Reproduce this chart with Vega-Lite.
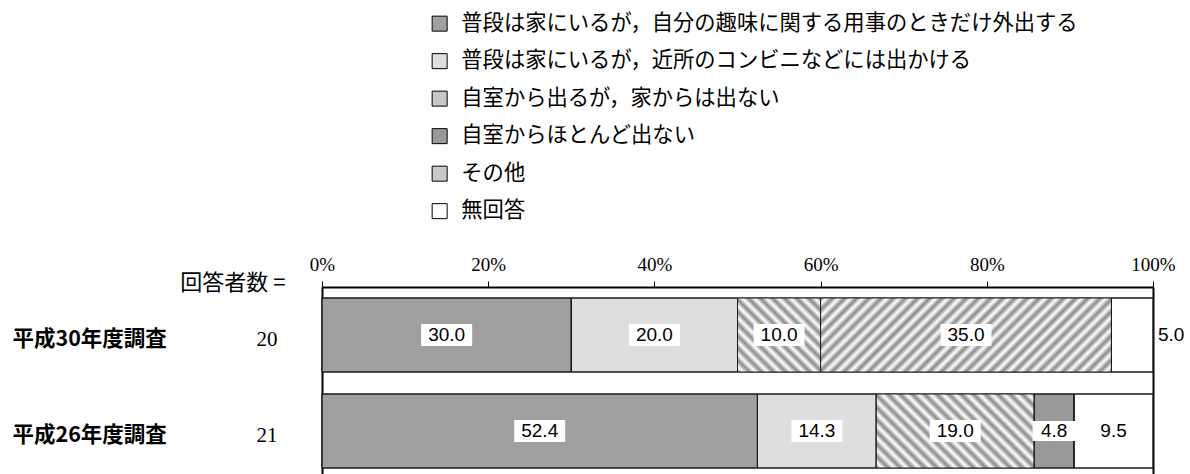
{
  "$schema": "https://vega.github.io/schema/vega-lite/v6.json",
  "width": 831,
  "height": 187,
  "autosize": {"type": "none"},
  "padding": {"left": 322, "top": 287, "right": 37, "bottom": 0},
  "background": "white",
  "config": {"view": {"stroke": null}},
  "data": {
    "values": [
      {"survey": "平成30年度調査", "n": 20, "no": 1, "category": "普段は家にいるが，自分の趣味に関する用事のときだけ外出する", "value": 30.0},
      {"survey": "平成30年度調査", "n": 20, "no": 2, "category": "普段は家にいるが，近所のコンビニなどには出かける", "value": 20.0},
      {"survey": "平成30年度調査", "n": 20, "no": 3, "category": "自室から出るが，家からは出ない", "value": 10.0},
      {"survey": "平成30年度調査", "n": 20, "no": 5, "category": "その他", "value": 35.0},
      {"survey": "平成30年度調査", "n": 20, "no": 6, "category": "無回答", "value": 5.0},
      {"survey": "平成26年度調査", "n": 21, "no": 1, "category": "普段は家にいるが，自分の趣味に関する用事のときだけ外出する", "value": 52.4},
      {"survey": "平成26年度調査", "n": 21, "no": 2, "category": "普段は家にいるが，近所のコンビニなどには出かける", "value": 14.3},
      {"survey": "平成26年度調査", "n": 21, "no": 3, "category": "自室から出るが，家からは出ない", "value": 19.0},
      {"survey": "平成26年度調査", "n": 21, "no": 4, "category": "自室からほとんど出ない", "value": 4.8},
      {"survey": "平成26年度調査", "n": 21, "no": 6, "category": "無回答", "value": 9.5}
    ]
  },
  "layer": [
    {
      "encoding": {
        "y": {
          "field": "survey",
          "type": "nominal",
          "sort": ["平成30年度調査", "平成26年度調査"],
          "scale": {"type": "band", "domain": ["平成30年度調査", "平成26年度調査"], "paddingInner": 0.229, "paddingOuter": 0.0885, "align": 0.647},
          "axis": {
            "orient": "left",
            "title": null,
            "domain": false,
            "ticks": false,
            "tickSize": 0,
            "labelAlign": "left",
            "labelPadding": 310,
            "labelOffset": 5,
            "labelFont": "Noto Sans CJK JP",
            "labelFontWeight": "bold",
            "labelFontSize": 21.5,
            "labelColor": "black",
            "labelLimit": 0
          }
        }
      },
      "layer": [
        {
          "mark": {"type": "bar", "stroke": "#1a1a1a", "strokeWidth": 1},
          "encoding": {
            "x": {
              "field": "value",
              "type": "quantitative",
              "stack": "zero",
              "scale": {"domain": [0, 100], "nice": false},
              "axis": {
                "orient": "top",
                "title": null,
                "values": [0, 20, 40, 60, 80, 100],
                "labelExpr": "datum.value + '%'",
                "labelFont": "Liberation Serif",
                "labelFontSize": 19,
                "labelColor": "black",
                "labelPadding": 7,
                "labelFlush": false,
                "tickSize": 6,
                "tickColor": "black",
                "domainColor": "black",
                "domainWidth": 2,
                "grid": true,
                "gridColor": "black",
                "gridWidth": 2,
                "gridOpacity": {"condition": {"test": "datum.value === 0 || datum.value === 100", "value": 1}, "value": 0}
              }
            },
            "order": {"field": "no", "type": "quantitative"},
            "color": {
              "field": "category",
              "type": "nominal",
              "scale": {
                "domain": [
                  "普段は家にいるが，自分の趣味に関する用事のときだけ外出する",
                  "普段は家にいるが，近所のコンビニなどには出かける",
                  "自室から出るが，家からは出ない",
                  "自室からほとんど出ない",
                  "その他",
                  "無回答"
                ],
                "range": ["#a0a0a0", "#dedede", "#c6c6c6", "#999999", "#c9c9c9", "#ffffff"]
              },
              "legend": {
                "orient": "none",
                "legendX": 107,
                "legendY": -274,
                "direction": "vertical",
                "title": null,
                "symbolType": "square",
                "symbolSize": 225,
                "symbolStrokeColor": "black",
                "symbolStrokeWidth": 1,
                "symbolOpacity": 1,
                "labelFont": "Noto Sans CJK JP",
                "labelFontSize": 21.3,
                "labelColor": "black",
                "labelLimit": 0,
                "labelOffset": 11,
                "rowPadding": 15.5,
                "padding": 0,
                "offset": 0
              }
            }
          }
        },
        {
          "mark": {"type": "bar", "stroke": "#1a1a1a", "strokeWidth": 1},
          "encoding": {
            "x": {"field": "value", "type": "quantitative", "stack": "zero"},
            "order": {"field": "no", "type": "quantitative"},
            "detail": {"field": "category"},
            "fill": {
              "condition": [
                {
                  "test": "datum.no === 3 && datum.survey === '平成30年度調査'",
                  "value": {
                    "gradient": "linear", "x1": 0, "y1": 1, "x2": 1.0544, "y2": 0.0611,
                    "stops": [
                      {"offset": 0, "color": "#8a8a8a"}, {"offset": 0.0385, "color": "#ffffff"},
                      {"offset": 0.0769, "color": "#8a8a8a"}, {"offset": 0.1154, "color": "#ffffff"},
                      {"offset": 0.1538, "color": "#8a8a8a"}, {"offset": 0.1923, "color": "#ffffff"},
                      {"offset": 0.2308, "color": "#8a8a8a"}, {"offset": 0.2692, "color": "#ffffff"},
                      {"offset": 0.3077, "color": "#8a8a8a"}, {"offset": 0.3462, "color": "#ffffff"},
                      {"offset": 0.3846, "color": "#8a8a8a"}, {"offset": 0.4231, "color": "#ffffff"},
                      {"offset": 0.4615, "color": "#8a8a8a"}, {"offset": 0.5, "color": "#ffffff"},
                      {"offset": 0.5385, "color": "#8a8a8a"}, {"offset": 0.5769, "color": "#ffffff"},
                      {"offset": 0.6154, "color": "#8a8a8a"}, {"offset": 0.6538, "color": "#ffffff"},
                      {"offset": 0.6923, "color": "#8a8a8a"}, {"offset": 0.7308, "color": "#ffffff"},
                      {"offset": 0.7692, "color": "#8a8a8a"}, {"offset": 0.8077, "color": "#ffffff"},
                      {"offset": 0.8462, "color": "#8a8a8a"}, {"offset": 0.8846, "color": "#ffffff"},
                      {"offset": 0.9231, "color": "#8a8a8a"}, {"offset": 0.9615, "color": "#ffffff"},
                      {"offset": 1, "color": "#8a8a8a"}
                    ]
                  }
                },
                {
                  "test": "datum.no === 3 && datum.survey === '平成26年度調査'",
                  "value": {
                    "gradient": "linear", "x1": 0, "y1": 1, "x2": 1.2042, "y2": 0.4357,
                    "stops": [
                      {"offset": 0, "color": "#8a8a8a"}, {"offset": 0.0263, "color": "#ffffff"},
                      {"offset": 0.0526, "color": "#8a8a8a"}, {"offset": 0.0789, "color": "#ffffff"},
                      {"offset": 0.1053, "color": "#8a8a8a"}, {"offset": 0.1316, "color": "#ffffff"},
                      {"offset": 0.1579, "color": "#8a8a8a"}, {"offset": 0.1842, "color": "#ffffff"},
                      {"offset": 0.2105, "color": "#8a8a8a"}, {"offset": 0.2368, "color": "#ffffff"},
                      {"offset": 0.2632, "color": "#8a8a8a"}, {"offset": 0.2895, "color": "#ffffff"},
                      {"offset": 0.3158, "color": "#8a8a8a"}, {"offset": 0.3421, "color": "#ffffff"},
                      {"offset": 0.3684, "color": "#8a8a8a"}, {"offset": 0.3947, "color": "#ffffff"},
                      {"offset": 0.4211, "color": "#8a8a8a"}, {"offset": 0.4474, "color": "#ffffff"},
                      {"offset": 0.4737, "color": "#8a8a8a"}, {"offset": 0.5, "color": "#ffffff"},
                      {"offset": 0.5263, "color": "#8a8a8a"}, {"offset": 0.5526, "color": "#ffffff"},
                      {"offset": 0.5789, "color": "#8a8a8a"}, {"offset": 0.6053, "color": "#ffffff"},
                      {"offset": 0.6316, "color": "#8a8a8a"}, {"offset": 0.6579, "color": "#ffffff"},
                      {"offset": 0.6842, "color": "#8a8a8a"}, {"offset": 0.7105, "color": "#ffffff"},
                      {"offset": 0.7368, "color": "#8a8a8a"}, {"offset": 0.7632, "color": "#ffffff"},
                      {"offset": 0.7895, "color": "#8a8a8a"}, {"offset": 0.8158, "color": "#ffffff"},
                      {"offset": 0.8421, "color": "#8a8a8a"}, {"offset": 0.8684, "color": "#ffffff"},
                      {"offset": 0.8947, "color": "#8a8a8a"}, {"offset": 0.9211, "color": "#ffffff"},
                      {"offset": 0.9474, "color": "#8a8a8a"}, {"offset": 0.9737, "color": "#ffffff"},
                      {"offset": 1, "color": "#8a8a8a"}
                    ]
                  }
                },
                {
                  "test": "datum.no === 5 && datum.survey === '平成30年度調査'",
                  "value": {
                    "gradient": "linear", "x1": 0, "y1": 0, "x2": 1.1781, "y2": 0.2997,
                    "stops": [
                      {"offset": 0, "color": "#8a8a8a"}, {"offset": 0.0167, "color": "#ffffff"},
                      {"offset": 0.0333, "color": "#8a8a8a"}, {"offset": 0.05, "color": "#ffffff"},
                      {"offset": 0.0667, "color": "#8a8a8a"}, {"offset": 0.0833, "color": "#ffffff"},
                      {"offset": 0.1, "color": "#8a8a8a"}, {"offset": 0.1167, "color": "#ffffff"},
                      {"offset": 0.1333, "color": "#8a8a8a"}, {"offset": 0.15, "color": "#ffffff"},
                      {"offset": 0.1667, "color": "#8a8a8a"}, {"offset": 0.1833, "color": "#ffffff"},
                      {"offset": 0.2, "color": "#8a8a8a"}, {"offset": 0.2167, "color": "#ffffff"},
                      {"offset": 0.2333, "color": "#8a8a8a"}, {"offset": 0.25, "color": "#ffffff"},
                      {"offset": 0.2667, "color": "#8a8a8a"}, {"offset": 0.2833, "color": "#ffffff"},
                      {"offset": 0.3, "color": "#8a8a8a"}, {"offset": 0.3167, "color": "#ffffff"},
                      {"offset": 0.3333, "color": "#8a8a8a"}, {"offset": 0.35, "color": "#ffffff"},
                      {"offset": 0.3667, "color": "#8a8a8a"}, {"offset": 0.3833, "color": "#ffffff"},
                      {"offset": 0.4, "color": "#8a8a8a"}, {"offset": 0.4167, "color": "#ffffff"},
                      {"offset": 0.4333, "color": "#8a8a8a"}, {"offset": 0.45, "color": "#ffffff"},
                      {"offset": 0.4667, "color": "#8a8a8a"}, {"offset": 0.4833, "color": "#ffffff"},
                      {"offset": 0.5, "color": "#8a8a8a"}, {"offset": 0.5167, "color": "#ffffff"},
                      {"offset": 0.5333, "color": "#8a8a8a"}, {"offset": 0.55, "color": "#ffffff"},
                      {"offset": 0.5667, "color": "#8a8a8a"}, {"offset": 0.5833, "color": "#ffffff"},
                      {"offset": 0.6, "color": "#8a8a8a"}, {"offset": 0.6167, "color": "#ffffff"},
                      {"offset": 0.6333, "color": "#8a8a8a"}, {"offset": 0.65, "color": "#ffffff"},
                      {"offset": 0.6667, "color": "#8a8a8a"}, {"offset": 0.6833, "color": "#ffffff"},
                      {"offset": 0.7, "color": "#8a8a8a"}, {"offset": 0.7167, "color": "#ffffff"},
                      {"offset": 0.7333, "color": "#8a8a8a"}, {"offset": 0.75, "color": "#ffffff"},
                      {"offset": 0.7667, "color": "#8a8a8a"}, {"offset": 0.7833, "color": "#ffffff"},
                      {"offset": 0.8, "color": "#8a8a8a"}, {"offset": 0.8167, "color": "#ffffff"},
                      {"offset": 0.8333, "color": "#8a8a8a"}, {"offset": 0.85, "color": "#ffffff"},
                      {"offset": 0.8667, "color": "#8a8a8a"}, {"offset": 0.8833, "color": "#ffffff"},
                      {"offset": 0.9, "color": "#8a8a8a"}, {"offset": 0.9167, "color": "#ffffff"},
                      {"offset": 0.9333, "color": "#8a8a8a"}, {"offset": 0.95, "color": "#ffffff"},
                      {"offset": 0.9667, "color": "#8a8a8a"}, {"offset": 0.9833, "color": "#ffffff"},
                      {"offset": 1, "color": "#8a8a8a"}
                    ]
                  }
                }
              ],
              "value": "transparent"
            }
          }
        },
        {
          "mark": {"type": "point", "filled": true, "fill": "white", "strokeWidth": 0},
          "encoding": {
            "x": {"field": "value", "type": "quantitative", "stack": "zero", "bandPosition": 0.5},
            "order": {"field": "no", "type": "quantitative"},
            "detail": {"field": "category"},
            "shape": {"condition": {"test": "datum.value >= 10", "value": "M-1,-0.43H1V0.43H-1Z"}, "value": "M-1,-0.47H1V0.47H-1Z"},
            "size": {"condition": {"test": "datum.value >= 10", "value": 2601}, "value": 1849},
            "opacity": {"condition": {"test": "datum.category === '無回答' && datum.value < 6", "value": 0}, "value": 1}
          }
        },
        {
          "mark": {"type": "text", "font": "Liberation Sans", "fontSize": 19, "color": "black", "baseline": "middle", "align": "center"},
          "encoding": {
            "x": {"field": "value", "type": "quantitative", "stack": "zero", "bandPosition": 0.5},
            "order": {"field": "no", "type": "quantitative"},
            "detail": {"field": "category"},
            "text": {"field": "value", "type": "quantitative", "format": ".1f"},
            "opacity": {"condition": {"test": "datum.category === '無回答' && datum.value < 6", "value": 0}, "value": 1}
          }
        },
        {
          "mark": {"type": "text", "font": "Liberation Sans", "fontSize": 19, "color": "black", "baseline": "middle", "align": "left", "dx": 5},
          "encoding": {
            "x": {"field": "value", "type": "quantitative", "stack": "zero"},
            "order": {"field": "no", "type": "quantitative"},
            "detail": {"field": "category"},
            "text": {"field": "value", "type": "quantitative", "format": ".1f"},
            "opacity": {"condition": {"test": "datum.category === '無回答' && datum.value < 6", "value": 1}, "value": 0}
          }
        }
      ]
    },
    {
      "mark": {"type": "text"},
      "encoding": {
        "y": {
          "field": "n",
          "type": "nominal",
          "scale": {"type": "band", "domain": [20, 21], "paddingInner": 0.229, "paddingOuter": 0.0885, "align": 0.647},
          "axis": {
            "orient": "left",
            "title": "回答者数 =",
            "titleAngle": 0,
            "titleX": -37,
            "titleY": -5,
            "titleAlign": "right",
            "titleBaseline": "middle",
            "titleFont": "Noto Sans CJK JP",
            "titleFontWeight": "normal",
            "titleFontSize": 22,
            "titleColor": "black",
            "domain": false,
            "ticks": false,
            "tickSize": 0,
            "labelAlign": "right",
            "labelPadding": 45,
            "labelOffset": 5,
            "labelFont": "Liberation Serif",
            "labelFontSize": 21,
            "labelColor": "black"
          }
        },
        "text": {"value": ""}
      }
    }
  ],
  "resolve": {"scale": {"y": "independent"}, "axis": {"y": "independent"}}
}
